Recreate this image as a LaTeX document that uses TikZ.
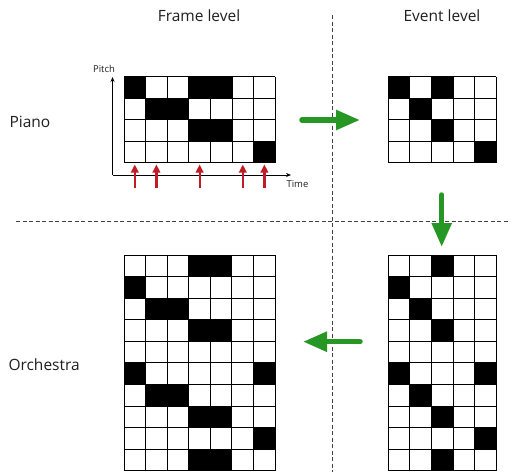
\documentclass[tikz,border=0pt]{standalone}
\usepackage{fontspec}
\setmainfont{Open Sans}
\usetikzlibrary{arrows.meta}
\definecolor{flow}{RGB}{38,150,36}
\definecolor{onset}{RGB}{192,28,40}
\definecolor{ink}{RGB}{30,30,30}

% one piano roll: x0, y0, columns, rows, black cells as col/row
\newcommand\rollgrid[5]{%
  \foreach \c/\r in {#5} {
    \fill[black] (#1+\c*\cell, #2+\r*\cell) rectangle ++(\cell,\cell);
  }
  \foreach \c in {0,...,#3} {
    \draw[cellline] (#1+\c*\cell, #2) -- ++(0, #4*\cell);
  }
  \foreach \r in {0,...,#4} {
    \draw[cellline] (#1, #2+\r*\cell) -- ++(#3*\cell, 0);
  }
}

\begin{document}
\begin{tikzpicture}[x=1pt, y=-1pt,
    lab/.style={font=\fontsize{15.5}{18}\selectfont, color=ink},
    axlab/.style={font=\fontsize{9.5}{11}\selectfont, color=ink},
    cellline/.style={line width=0.9pt, color=black},
    sep/.style={line width=0.7pt, color=black!75, dash pattern=on 4pt off 2.5pt},
    flowarrow/.style={-{Triangle[length=24pt, width=19pt]}, line width=5.5pt,
                      color=flow, line cap=round},
    onsetarrow/.style={-{Triangle[length=8pt, width=7.5pt]}, line width=2.2pt, color=onset},
    axis/.style={-{Stealth[length=5pt, width=4pt]}, line width=0.7pt, color=black}]
  \useasboundingbox (0,0) rectangle (515,472);
  \def\cell{21.6}

  % ---- headings and row labels ----------------------------------------------
  \node[lab] (frame) at (199,16) {Frame level};
  \node[lab] (event) at (442,16) {Event level};
  \node[lab, anchor=west] (piano) at (6,122) {Piano};
  \node[lab, anchor=west] (orch) at (5,365) {Orchestra};

  % ---- quadrant separators --------------------------------------------------
  \coordinate (vtop) at (332,15);
  \coordinate (vbot) at (332,472);
  \coordinate (hleft) at (16,221);
  \coordinate (hright) at (510,221);
  \draw[sep] (vtop) -- (vbot);
  \draw[sep] (hleft) -- (hright);

  % ---- piano, frame level ---------------------------------------------------
  \rollgrid{124}{76.5}{7}{4}{0/0, 3/0, 4/0, 1/1, 2/1, 3/2, 4/2, 6/3}
  \coordinate (orig) at (112.5,175);
  \coordinate (ytip) at (112.5,77);
  \coordinate (xtip) at (291,175);
  \draw[axis] (orig) -- (ytip);
  \draw[axis] (orig) -- (xtip);
  \node[axlab] (pitch) at (104,69) {Pitch};
  \node[axlab, anchor=west] (time) at (283,184) {Time};
  % onsets
  \foreach \k in {0,1,3,5,6} {
    \coordinate (on\k) at (124+\k*\cell+0.5*\cell, 187.5);
    \coordinate (up\k) at (124+\k*\cell+0.5*\cell, 164.5);
    \draw[onsetarrow] (on\k) -- (up\k);
  }

  % ---- piano, event level ---------------------------------------------------
  \rollgrid{388.3}{76.5}{5}{4}{0/0, 2/0, 1/1, 2/2, 4/3}

  % ---- orchestra, frame level -----------------------------------------------
  \def\cell{21.57}
  \rollgrid{124}{255}{7}{10}{3/0, 4/0, 0/1, 1/2, 2/2, 3/3, 4/3, 0/5, 6/5,
                             1/6, 2/6, 3/7, 4/7, 6/8, 3/9, 4/9}

  % ---- orchestra, event level -----------------------------------------------
  \rollgrid{388.3}{255}{5}{10}{2/0, 0/1, 1/2, 2/3, 0/5, 4/5, 1/6, 2/7, 4/8, 2/9}

  % ---- processing steps -----------------------------------------------------
  \coordinate (s1) at (302,120);
  \coordinate (t1) at (360,120);
  \coordinate (s2) at (441.7,195);
  \coordinate (t2) at (441.7,247);
  \coordinate (s3) at (360,341.7);
  \coordinate (t3) at (303,341.7);
  \draw[flowarrow] (s1) -- (t1);
  \draw[flowarrow] (s2) -- (t2);
  \draw[flowarrow] (s3) -- (t3);
\end{tikzpicture}
\end{document}
